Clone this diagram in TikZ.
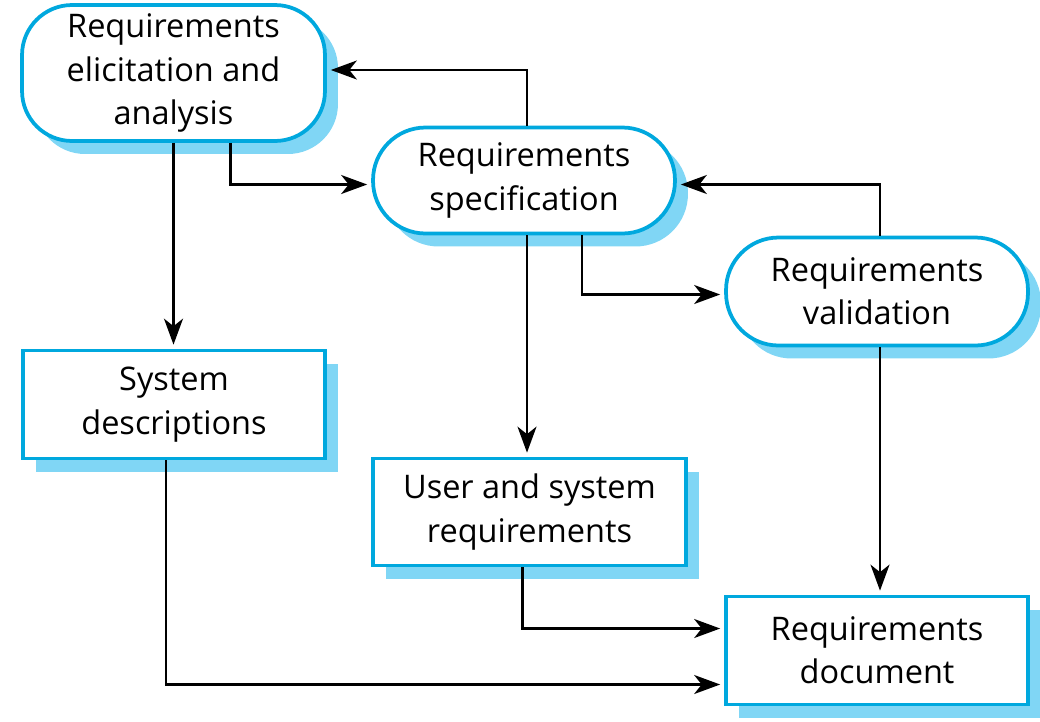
\documentclass[tikz,border=0pt]{standalone}
\usepackage{fontspec}
\setmainfont{Open Sans}
\usetikzlibrary{positioning,arrows.meta,calc,shadows}
\definecolor{boxcyan}{RGB}{0,168,222}
\definecolor{shadecyan}{RGB}{128,214,245}
\tikzset{
  proc/.style = {draw=boxcyan, line width=0.75mm, fill=white, align=center, inner sep=2pt,
                 font=\fontsize{18.5}{24.7}\selectfont,
                 drop shadow={shadow xshift=2.6mm, shadow yshift=-2.6mm, fill=shadecyan, opacity=1}},
  pill/.style = {proc, rounded corners=1.05cm},
  flow/.style = {-{Stealth[length=5.2mm, width=3.8mm, inset=1.5mm]}, line width=0.45mm, shorten >=0.8mm},
}

\begin{document}
\begin{tikzpicture}[x=0.02cm, y=-0.02cm]
  \useasboundingbox (0,0) rectangle (1040,721);
  \node[proc, rounded corners=1cm, minimum width=6.06cm, minimum height=2.72cm] (elicit) at (173.5,73)
    {Requirements\\elicitation and\\analysis};
  \node[pill, minimum width=6.04cm, minimum height=2.12cm] (spec) at (524,180.5)
    {Requirements\\specification};
  \node[pill, minimum width=6.04cm, minimum height=2.16cm] (valid) at (877,291.5)
    {Requirements\\validation};
  \node[proc, minimum width=6.04cm, minimum height=2.16cm] (sysdesc) at (174,404.5)
    {System\\descriptions};
  \node[proc, minimum width=6.26cm, minimum height=2.14cm] (usersys) at (529.5,512)
    {User and system\\requirements};
  \node[proc, minimum width=6.04cm, minimum height=2.16cm] (reqdoc) at (877,650.5)
    {Requirements\\document};
  % connectors
  \draw[flow] (elicit.south) -- (elicit.south |- sysdesc.north);
  \draw[flow] ([xshift=1.14cm]elicit.south) |- ([yshift=-0.08cm]spec.west);
  \draw[flow] ([xshift=0.06cm]spec.north) |- ([yshift=0.06cm]elicit.east);
  \draw[flow] ([xshift=0.06cm]spec.south) -- ([xshift=0.06cm]spec.south |- usersys.north);
  \draw[flow] ([xshift=1.16cm]spec.south) |- ([yshift=-0.06cm]valid.west);
  \draw[flow] ([xshift=0.06cm]valid.north) |- ([yshift=-0.08cm]spec.east);
  \draw[flow] ([xshift=0.06cm]valid.south) -- ([xshift=0.06cm]reqdoc.north);
  \draw[flow] ([xshift=-0.14cm]usersys.south) |- ([yshift=0.44cm]reqdoc.west);
  \draw[flow] ([xshift=-0.16cm]sysdesc.south) |- ([yshift=-0.68cm]reqdoc.west);
\end{tikzpicture}
\end{document}
